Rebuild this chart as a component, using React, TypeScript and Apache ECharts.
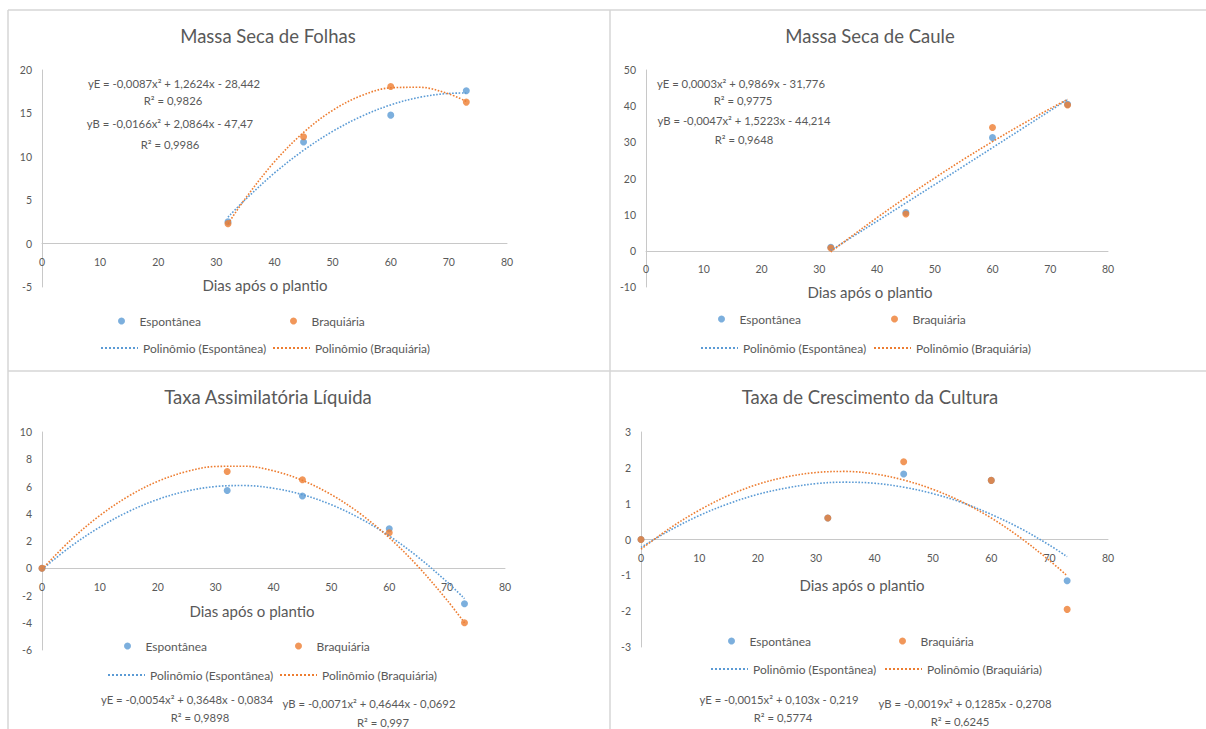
import React, { useEffect, useRef } from "react";
import * as echarts from "echarts";

// ---------- data ----------
const SERIES_E = "Espontânea";
const SERIES_B = "Braquiária";
const TREND_E = "Polinômio (Espontânea)";
const TREND_B = "Polinômio (Braquiária)";

// Massa Seca de Folhas
const folhasEsp = [[32, 2.5], [45, 11.7], [60, 14.8], [73, 17.6]];
const folhasBraq = [[32, 2.3], [45, 12.3], [60, 18.1], [73, 16.3]];
const folhasTrendX = [32, 35, 40, 45, 50, 55, 60, 65, 70, 73];
const folhasTrendEsp = [3.05, 5.08, 8.14, 10.75, 12.93, 14.67, 15.98, 16.86, 17.3, 17.35];
const folhasTrendBraq = [2.29, 5.21, 9.43, 12.81, 15.35, 17.06, 17.95, 18.01, 17.24, 16.38];

// Massa Seca de Caule
const cauleEsp = [[32, 1.0], [45, 10.6], [60, 31.3], [73, 40.5]];
const cauleBraq = [[32, 0.8], [45, 10.2], [60, 34.1], [73, 40.3]];
const cauleTrendX = [32, 35, 40, 45, 50, 55, 60, 65, 70, 73];
const cauleTrendEsp = [0.11, 3.13, 8.18, 13.24, 18.32, 23.41, 28.52, 33.64, 38.77, 41.87];
const cauleTrendBraq = [-0.31, 3.31, 9.16, 14.77, 20.15, 25.3, 30.2, 34.88, 39.32, 41.87];

// Taxa Assimilatória Líquida
const talEsp = [[0, 0], [32, 5.7], [45, 5.3], [60, 2.9], [73, -2.6]];
const talBraq = [[0, 0], [32, 7.1], [45, 6.5], [60, 2.6], [73, -4.0]];
const talTrendX = [0, 5, 10, 15, 20, 25, 30, 35, 40, 45, 50, 55, 60, 65, 70, 73];
const talTrendEsp = [-0.08, 1.61, 3.02, 4.17, 5.05, 5.66, 6.0, 6.07, 5.87, 5.4, 4.66, 3.65, 2.37, 0.81, -1.01, -2.23];
const talTrendBraq = [-0.07, 2.08, 3.87, 5.3, 6.38, 7.1, 7.47, 7.49, 7.15, 6.45, 5.4, 4.0, 2.24, 0.12, -2.35, -4.0];

// Taxa de Crescimento da Cultura
const tccEsp = [[0, 0], [32, 0.6], [45, 1.83], [60, 1.65], [73, -1.15]];
const tccBraq = [[0, 0], [32, 0.6], [45, 2.17], [60, 1.65], [73, -1.95]];
const tccTrendX = [0, 5, 10, 15, 20, 25, 30, 35, 40, 45, 50, 55, 60, 65, 70, 73];
const tccTrendEsp = [-0.22, 0.26, 0.67, 1.0, 1.26, 1.44, 1.56, 1.6, 1.57, 1.46, 1.28, 1.03, 0.7, 0.31, -0.16, -0.48];
const tccTrendBraq = [-0.27, 0.32, 0.82, 1.23, 1.54, 1.75, 1.87, 1.9, 1.83, 1.66, 1.4, 1.05, 0.6, 0.05, -0.59, -1.01];

// axis ranges / tick settings
const xRange = { min: 0, max: 80, interval: 10 };
const folhasY = { min: -5, max: 20, interval: 5 };
const cauleY = { min: -10, max: 50, interval: 10 };
const talY = { min: -6, max: 10, interval: 2 };
const tccY = { min: -3, max: 3, interval: 1 };

const titles = [
  "Massa Seca de Folhas",
  "Massa Seca de Caule",
  "Taxa Assimilatória Líquida",
  "Taxa de Crescimento da Cultura",
];
const xAxisTitle = "Dias após o plantio";

const equations = [
  ["yE = -0,0087x² + 1,2624x - 28,442", "R² = 0,9826", "yB = -0,0166x² + 2,0864x - 47,47", "R² = 0,9986"],
  ["yE = 0,0003x² + 0,9869x - 31,776", "R² = 0,9775", "yB = -0,0047x² + 1,5223x - 44,214", "R² = 0,9648"],
  ["yE = -0,0054x² + 0,3648x - 0,0834", "R² = 0,9898", "yB = -0,0071x² + 0,4644x - 0,0692", "R² = 0,997"],
  ["yE = -0,0015x² + 0,103x - 0,219", "R² = 0,5774", "yB = -0,0019x² + 0,1285x - 0,2708", "R² = 0,6245"],
];

// ---------- layout / style ----------
const FONT = "Lato, 'Open Sans', sans-serif";
const C_E = "#5B9BD5";
const C_B = "#ED7D31";
const TXT = "#595959";
const AXIS = "#C8C8C8";
const BORDER = "#D6D6D6";

const panels = [
  {
    grid: { left: 42, top: 70, width: 465, height: 217 },
    y: folhasY,
    title: { x: 268, y: 26 },
    xName: { x: 265, y: 285 },
    eq: [[174, 83], [173, 100], [170, 123], [170, 144]],
    legend: { row1: [118, 290], row2: [100, 272], y1: 322, y2: 349 },
    esp: folhasEsp, braq: folhasBraq,
    tx: folhasTrendX, te: folhasTrendEsp, tb: folhasTrendBraq,
  },
  {
    grid: { left: 646, top: 70, width: 462, height: 217 },
    y: cauleY,
    title: { x: 870, y: 26 },
    xName: { x: 870, y: 292 },
    eq: [[741, 83], [743, 100], [744, 120], [744, 139]],
    legend: { row1: [718, 891], row2: [700, 873], y1: 320, y2: 349 },
    esp: cauleEsp, braq: cauleBraq,
    tx: cauleTrendX, te: cauleTrendEsp, tb: cauleTrendBraq,
  },
  {
    grid: { left: 42, top: 432, width: 463, height: 218 },
    y: talY,
    title: { x: 268, y: 387 },
    xName: { x: 252, y: 611 },
    eq: [[187, 699], [200, 717], [369, 703], [383, 722]],
    legend: { row1: [124, 295], row2: [107, 279], y1: 647, y2: 676 },
    esp: talEsp, braq: talBraq,
    tx: talTrendX, te: talTrendEsp, tb: talTrendBraq,
  },
  {
    grid: { left: 641, top: 432, width: 467, height: 215 },
    y: tccY,
    title: { x: 870, y: 387 },
    xName: { x: 862, y: 585 },
    eq: [[779, 699], [783, 717], [965, 703], [960, 721]],
    legend: { row1: [728, 899], row2: [710, 884], y1: 642, y2: 670 },
    esp: tccEsp, braq: tccBraq,
    tx: tccTrendX, te: tccTrendEsp, tb: tccTrendBraq,
  },
];

function zip(xs: number[], ys: number[]) {
  return xs.map((x, i) => [x, ys[i]]);
}

function buildOption() {
  const grid: any[] = [];
  const xAxis: any[] = [];
  const yAxis: any[] = [];
  const series: any[] = [];
  const title: any[] = [];
  const legend: any[] = [];
  const graphic: any[] = [];

  // panel borders
  const borderLines = [
    [8, 10, 1206, 10],
    [8, 371, 1206, 371],
    [8, 10, 8, 729],
    [610, 10, 610, 729],
  ];
  borderLines.forEach(([x1, y1, x2, y2]) =>
    graphic.push({
      type: "line",
      shape: { x1, y1, x2, y2 },
      style: { stroke: BORDER, lineWidth: 1.5 },
      silent: true,
    })
  );

  panels.forEach((p, i) => {
    grid.push({ ...p.grid, containLabel: false });
    // lift the horizontal axis (line + labels) up to y = 0, as Excel does
    const zeroOffset = -(p.grid.height * (0 - p.y.min)) / (p.y.max - p.y.min);
    xAxis.push({
      type: "value",
      gridIndex: i,
      ...xRange,
      position: "bottom",
      offset: zeroOffset,
      axisLine: { show: true, onZero: false, lineStyle: { color: AXIS, width: 1 } },
      axisTick: { show: false },
      splitLine: { show: false },
      axisLabel: { color: TXT, fontSize: 10.5, fontFamily: FONT, margin: 13 },
    });
    yAxis.push({
      type: "value",
      gridIndex: i,
      ...p.y,
      axisLine: { show: true, onZero: false, lineStyle: { color: AXIS, width: 1 } },
      axisTick: { show: false },
      splitLine: { show: false },
      axisLabel: { color: TXT, fontSize: 10.5, fontFamily: FONT, margin: 10 },
    });
    series.push(
      {
        name: SERIES_E, type: "scatter", xAxisIndex: i, yAxisIndex: i,
        data: p.esp, symbol: "circle", symbolSize: 7, itemStyle: { color: C_E }, z: 3,
      },
      {
        name: SERIES_B, type: "scatter", xAxisIndex: i, yAxisIndex: i,
        data: p.braq, symbol: "circle", symbolSize: 7, itemStyle: { color: C_B }, z: 3,
      },
      {
        name: TREND_E, type: "line", xAxisIndex: i, yAxisIndex: i,
        data: zip(p.tx, p.te), smooth: 0.35, symbol: "none",
        lineStyle: { color: C_E, width: 1.6, type: "dotted" }, itemStyle: { color: C_E }, z: 4,
      },
      {
        name: TREND_B, type: "line", xAxisIndex: i, yAxisIndex: i,
        data: zip(p.tx, p.tb), smooth: 0.35, symbol: "none",
        lineStyle: { color: C_B, width: 1.6, type: "dotted" }, itemStyle: { color: C_B }, z: 4,
      }
    );
    title.push({
      text: titles[i],
      left: p.title.x,
      top: p.title.y,
      textAlign: "center",
      padding: 0,
      textStyle: { color: TXT, fontSize: 18.5, fontWeight: "normal", fontFamily: FONT },
    });
    const legText = { color: TXT, fontSize: 12, fontFamily: FONT };
    const L = p.legend;
    [SERIES_E, SERIES_B].forEach((n, k) =>
      legend.push({
        data: [n], left: L.row1[k], top: L.y1 - 7, padding: 0,
        itemWidth: 26, itemHeight: 7, itemGap: 0, textStyle: legText, selectedMode: false,
      })
    );
    [TREND_E, TREND_B].forEach((n, k) =>
      legend.push({
        data: [n], left: L.row2[k], top: L.y2 - 7, padding: 0,
        itemWidth: 37, itemHeight: 10, itemGap: 0, textStyle: legText, selectedMode: false,
        itemStyle: { opacity: 0 },
      })
    );
    graphic.push({
      type: "text",
      x: p.xName.x,
      y: p.xName.y,
      style: {
        text: xAxisTitle, fill: TXT, font: `15px ${FONT}`,
        textAlign: "center", textVerticalAlign: "middle", align: "center", verticalAlign: "middle",
      },
      silent: true,
    });
    equations[i].forEach((t, k) =>
      graphic.push({
        type: "text",
        x: p.eq[k][0],
        y: p.eq[k][1],
        style: {
          text: t, fill: TXT, font: `11.3px ${FONT}`,
          textAlign: "center", textVerticalAlign: "middle", align: "center", verticalAlign: "middle",
        },
        silent: true,
      })
    );
  });

  return {
    animation: false,
    backgroundColor: "#ffffff",
    textStyle: { fontFamily: FONT },
    title,
    legend,
    grid,
    xAxis,
    yAxis,
    series,
    graphic,
  };
}

export default function App() {
  const ref = useRef<HTMLDivElement>(null);
  useEffect(() => {
    if (!ref.current) return;
    const chart = echarts.init(ref.current, null, { renderer: "svg" });
    chart.setOption(buildOption() as any);
    return () => chart.dispose();
  }, []);
  return (
    <div
      ref={ref}
      style={{ position: "fixed", left: 0, top: 0, width: 1206, height: 729, background: "#fff" }}
    />
  );
}
